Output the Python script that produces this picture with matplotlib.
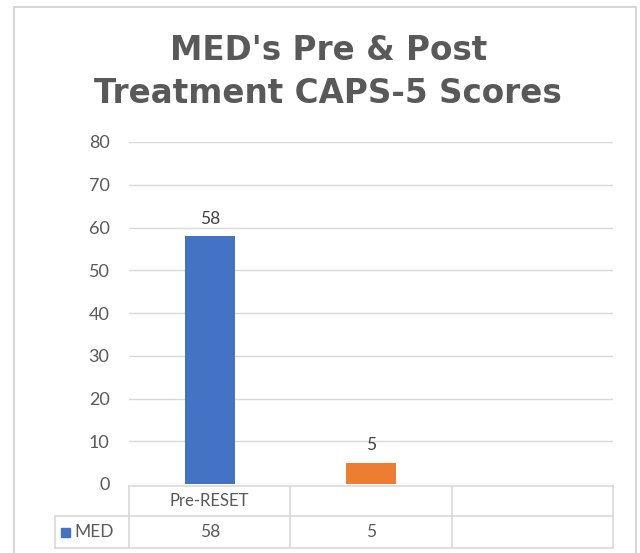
import matplotlib.pyplot as plt
from matplotlib.lines import Line2D
from matplotlib.patches import Rectangle

# datos
categorias = ["Pre-RESET", "", ""]
valores = [58, 5, None]
colores = ["#4472C4", "#ED7D31"]
serie = "MED"
titulo = "MED's Pre & Post\nTreatment CAPS-5 Scores"
yticks = [0, 10, 20, 30, 40, 50, 60, 70, 80]

gris_txt = "#595959"
gris_lin = "#d9d9d9"
fuente = "Lato"

fig = plt.figure(figsize=(6.4, 5.53), dpi=100)
W, H = 640, 553

def fx(px):
    return px / W

def fy(py):
    return 1 - py / H

# marco del grafico
fig.patches.append(Rectangle((fx(14), fy(560)), fx(622), fy(7) - fy(560),
                             transform=fig.transFigure, fill=False,
                             edgecolor="#d0d0d0", lw=1.2))

ax = fig.add_axes([fx(129), fy(484), fx(613) - fx(129), fy(142) - fy(484)])
for i, v in enumerate(valores):
    if v is None:
        continue
    ax.bar(i, v, width=0.31, color=colores[i], zorder=3)
    ax.text(i, v + 2.2, str(v), ha="center", va="bottom", fontsize=12.5,
            color="#404040", family=fuente)

ax.set_xlim(-0.5, len(categorias) - 0.5)
ax.set_ylim(0, 80)
ax.set_yticks(yticks)
ax.set_yticklabels([str(t) for t in yticks], fontsize=13, color=gris_txt,
                   family=fuente)
ax.tick_params(axis="y", length=0, pad=14)
ax.set_xticks([])
ax.grid(axis="y", color=gris_lin, lw=1, zorder=0)
for s in ax.spines.values():
    s.set_visible(False)

# tabla de datos
y_top, y_mid, y_bot = fy(486), fy(516), fy(548)
x_leg = fx(55)
x_cols = [fx(129) + k * (fx(613) - fx(129)) / len(categorias)
          for k in range(len(categorias) + 1)]

def linea(x0, y0, x1, y1):
    fig.add_artist(Line2D([x0, x1], [y0, y1], transform=fig.transFigure,
                          color=gris_lin, lw=1.2))

linea(x_cols[0], y_top, x_cols[-1], y_top)
linea(x_leg, y_mid, x_cols[-1], y_mid)
linea(x_leg, y_bot, x_cols[-1], y_bot)
linea(x_leg, y_mid, x_leg, y_bot)
for xc in x_cols:
    linea(xc, y_top, xc, y_bot)

for i, cat in enumerate(categorias):
    xc = (x_cols[i] + x_cols[i + 1]) / 2
    fig.text(xc, (y_top + y_mid) / 2, cat, ha="center", va="center",
             fontsize=12, color=gris_txt, family=fuente)
    if valores[i] is not None:
        fig.text(xc, (y_mid + y_bot) / 2, str(valores[i]), ha="center",
                 va="center", fontsize=12.5, color=gris_txt, family=fuente)

fig.patches.append(Rectangle((fx(61), fy(537)), fx(9), fy(528) - fy(537),
                             transform=fig.transFigure, color=colores[0]))
fig.text(fx(74), (y_mid + y_bot) / 2, serie, ha="left", va="center",
         fontsize=12.5, color=gris_txt, family=fuente)

# titulo
fig.text(0.513, fy(72), titulo, ha="center", va="center", fontsize=23.5,
         fontweight="bold", color=gris_txt, family="DejaVu Sans",
         linespacing=1.38)

fig.savefig("out.png", dpi=100)
